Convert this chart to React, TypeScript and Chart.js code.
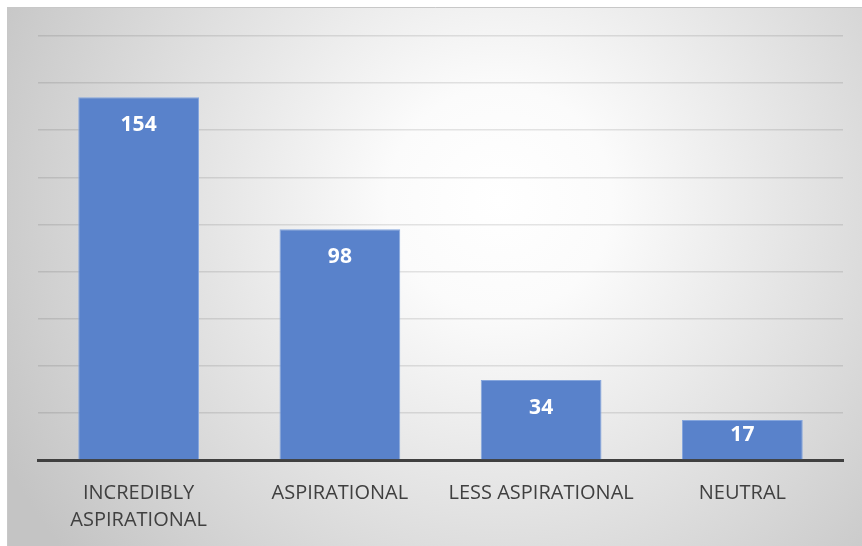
import React, { useEffect, useRef } from "react";
import { Chart, registerables } from "chart.js";

Chart.register(...registerables);

const categories: string[][] = [
  ["INCREDIBLY", "ASPIRATIONAL"],
  ["ASPIRATIONAL"],
  ["LESS ASPIRATIONAL"],
  ["NEUTRAL"],
];
const values: number[] = [154, 98, 34, 17];
const yMax = 180;
const yStep = 20;

const W = 862;
const H = 546;

const bgPlugin = {
  id: "bgFrame",
  beforeDraw(chart: any) {
    const ctx = chart.ctx as CanvasRenderingContext2D;
    ctx.save();
    const g = ctx.createRadialGradient(500, 200, 0, 500, 200, 560);
    g.addColorStop(0, "#ffffff");
    g.addColorStop(0.2, "#fbfbfb");
    g.addColorStop(1, "#c4c4c4");
    ctx.fillStyle = g;
    ctx.fillRect(7, 7, W, H);
    ctx.strokeStyle = "#c8c8c8";
    ctx.lineWidth = 1;
    ctx.beginPath();
    ctx.moveTo(7.5, H + 5);
    ctx.lineTo(7.5, 7.5);
    ctx.lineTo(W + 5, 7.5);
    ctx.stroke();
    ctx.restore();
  },
};

const labelPlugin = {
  id: "barLabels",
  afterDatasetsDraw(chart: any) {
    const ctx = chart.ctx as CanvasRenderingContext2D;
    const meta = chart.getDatasetMeta(0);
    ctx.save();
    ctx.fillStyle = "#ffffff";
    ctx.font = "bold 21px 'Open Sans'";
    ctx.textAlign = "center";
    ctx.textBaseline = "middle";
    meta.data.forEach((el: any, i: number) => {
      const h = el.base - el.y;
      const off = Math.min(28, h / 2 - 5);
      ctx.fillText(String(values[i]), el.x, el.y + off);
    });
    ctx.restore();
  },
};

export default function App() {
  const ref = useRef<HTMLCanvasElement | null>(null);
  useEffect(() => {
    if (!ref.current) return;
    const chart = new Chart(ref.current, {
      type: "bar",
      data: {
        labels: categories,
        datasets: [
          {
            data: values,
            backgroundColor: "#5982CB",
            borderColor: "#86A6DD",
            borderWidth: 1,
            categoryPercentage: 1,
            barPercentage: 0.6,
          },
        ],
      },
      options: {
        animation: false,
        responsive: false,
        devicePixelRatio: 1,
        layout: { padding: { left: 38, right: 19, top: 36, bottom: 0 } },
        plugins: { legend: { display: false }, tooltip: { enabled: false } },
        scales: {
          x: {
            grid: { display: false },
            border: { display: true, color: "#404040", width: 3 },
            ticks: {
              color: "#404040",
              font: { family: "'Open Sans'", size: 20, lineHeight: 1.35 },
              padding: 12,
              maxRotation: 0,
              autoSkip: false,
            },
            afterFit(scale: any) {
              scale.height = 86;
            },
          },
          y: {
            min: 0,
            max: yMax,
            ticks: { display: false, stepSize: yStep },
            border: { display: false },
            grid: { color: "rgba(0,0,0,0.1)", lineWidth: 1.5, drawTicks: false },
            afterFit(scale: any) {
              scale.width = 0;
            },
          },
        },
      },
      plugins: [bgPlugin, labelPlugin],
    });
    return () => chart.destroy();
  }, []);
  return (
    <div style={{ position: "absolute", left: 0, top: 0, width: W, height: H }}>
      <canvas ref={ref} width={W} height={H} style={{ width: W, height: H }} />
    </div>
  );
}
